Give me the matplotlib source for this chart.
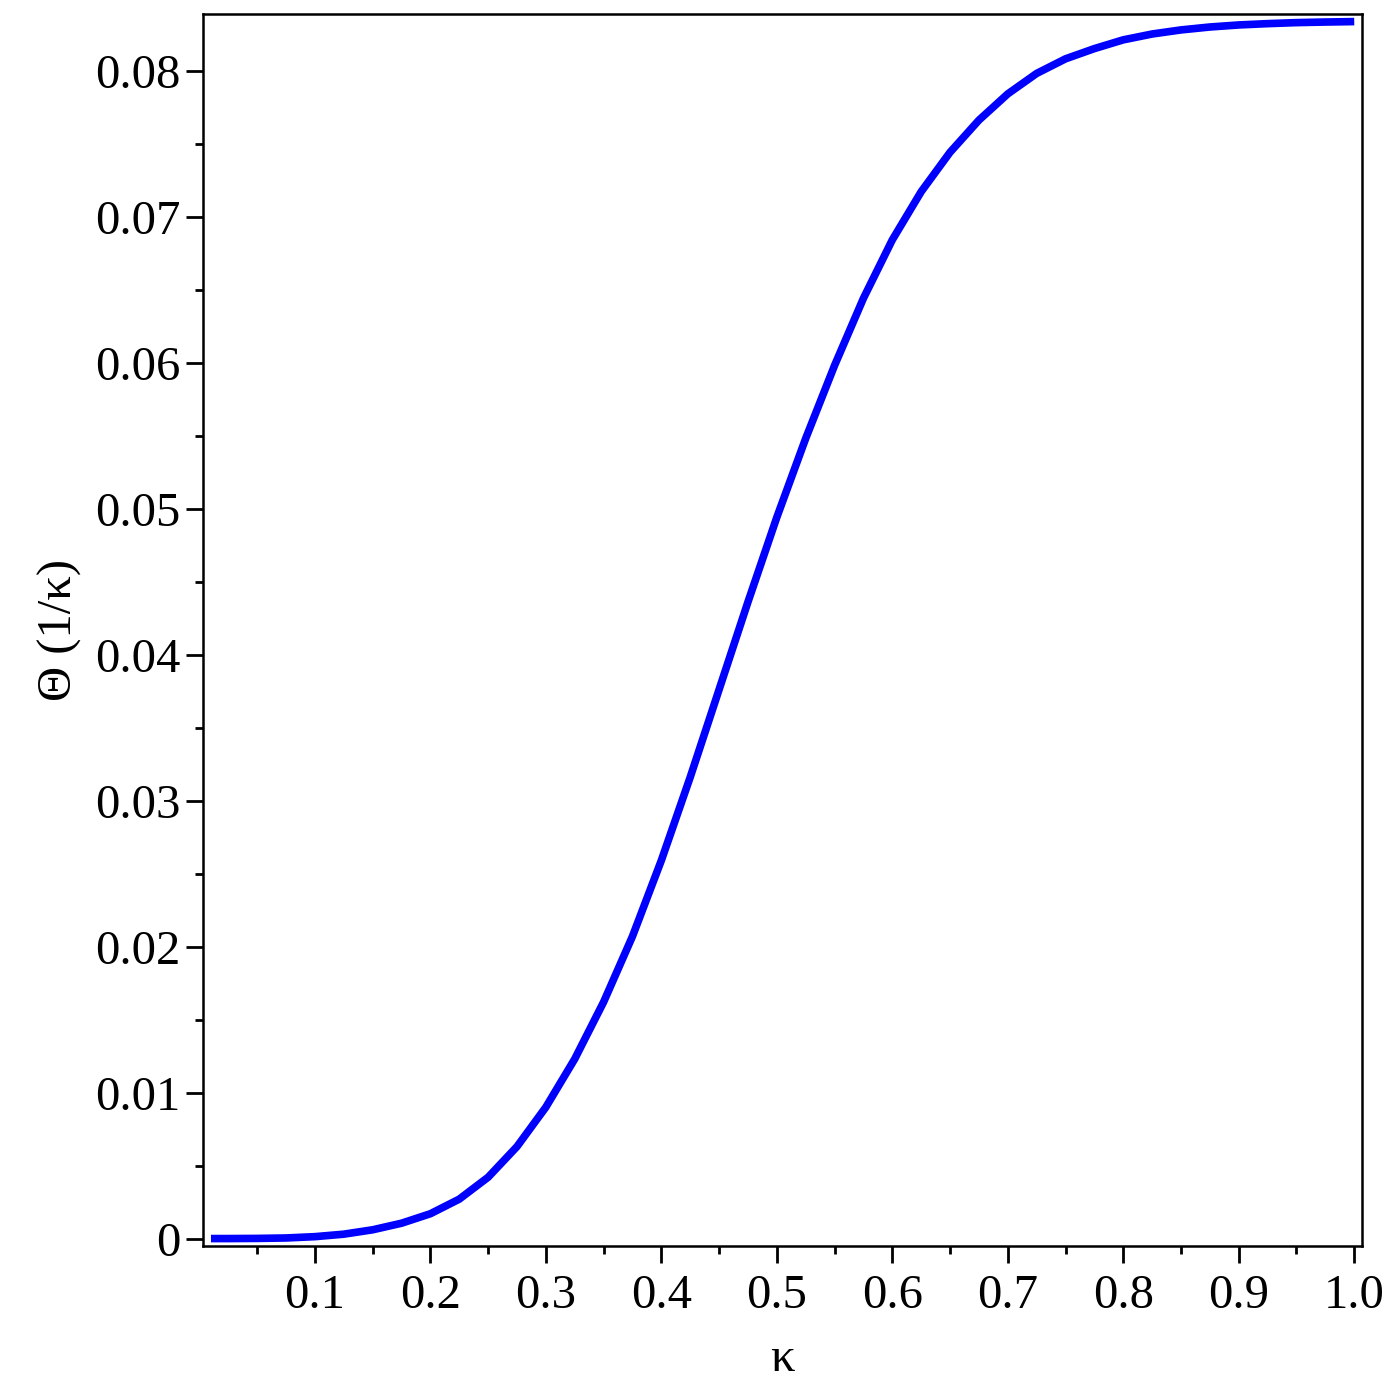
import matplotlib
matplotlib.use("Agg")
from matplotlib import pyplot as plt
from matplotlib.ticker import MultipleLocator, FixedLocator, FuncFormatter

# values
kappa = [0.01, 0.025, 0.05, 0.075, 0.10, 0.125, 0.15, 0.175, 0.20, 0.225,
         0.25, 0.275, 0.30, 0.325, 0.35, 0.375, 0.40, 0.425, 0.45, 0.475,
         0.50, 0.525, 0.55, 0.575, 0.60, 0.625, 0.65, 0.675, 0.70, 0.725,
         0.75, 0.775, 0.80, 0.825, 0.85, 0.875, 0.90, 0.925, 0.95, 0.975, 1.00]
theta = [0.0, 0.0, 0.00001, 0.00004, 0.00013, 0.0003, 0.0006, 0.00105, 0.0017, 0.0027,
         0.0042, 0.0063, 0.0090, 0.0123, 0.0162, 0.0207, 0.0259, 0.0316, 0.0376, 0.0436,
         0.0494, 0.0548, 0.0598, 0.0644, 0.0684, 0.0717, 0.0744, 0.0766, 0.0784, 0.0798,
         0.0808, 0.0815, 0.0821, 0.0825, 0.08278, 0.08298, 0.08312, 0.08321, 0.08328, 0.08332, 0.08335]

xticks = [0.1, 0.2, 0.3, 0.4, 0.5, 0.6, 0.7, 0.8, 0.9, 1.0]
yticks = [0.0, 0.01, 0.02, 0.03, 0.04, 0.05, 0.06, 0.07, 0.08]

plt.rcParams['font.family'] = ['Liberation Serif', 'DejaVu Serif']

fig = plt.figure(figsize=(14, 14), dpi=100)
ax = fig.add_axes([0.145, 0.11, 0.828, 0.88])

ax.plot(kappa, theta, color='#0000ff', lw=5.5, solid_capstyle='butt', solid_joinstyle='round')

ax.set_xlim(0.0031, 1.0069)
ax.set_ylim(-0.00051, 0.08387)

ax.xaxis.set_major_locator(FixedLocator(xticks))
ax.xaxis.set_minor_locator(FixedLocator([t - 0.05 for t in xticks]))
ax.yaxis.set_major_locator(FixedLocator(yticks))
ax.yaxis.set_minor_locator(MultipleLocator(0.005))
ax.xaxis.set_major_formatter(FuncFormatter(lambda v, p: f"{v:.1f}"))
ax.yaxis.set_major_formatter(FuncFormatter(lambda v, p: "0" if v == 0 else f"{v:.2f}"))

ax.tick_params(axis='both', which='major', direction='out', length=12, width=2,
               labelsize=35, top=False, right=False)
ax.tick_params(axis='both', which='minor', direction='out', length=5.5, width=2,
               top=False, right=False)
ax.tick_params(axis='x', which='major', pad=8)
ax.tick_params(axis='y', which='major', pad=4)

for s in ax.spines.values():
    s.set_linewidth(1.8)

ax.set_xlabel("κ", fontsize=35, labelpad=14)
ax.set_ylabel("Θ (1/κ)", fontsize=35, labelpad=10)

fig.savefig("out.png", dpi=100)
